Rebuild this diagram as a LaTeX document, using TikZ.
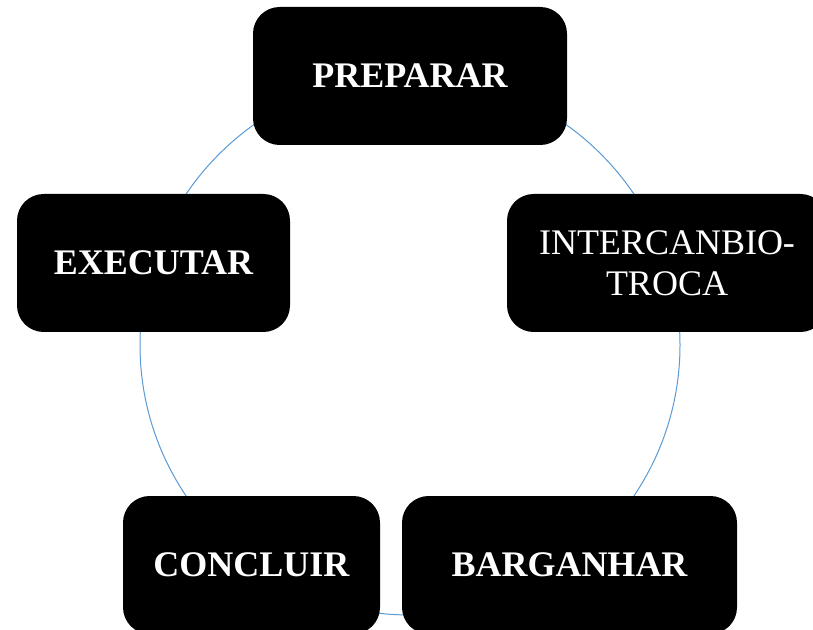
\documentclass[tikz,border=0pt]{standalone}
\usepackage{fontspec}
\setmainfont{Liberation Serif}
\usepackage{xcolor}
\usepackage{tikz}
\usetikzlibrary{positioning}

\definecolor{ringblue}{HTML}{5B9BD5}

\begin{document}
\begin{tikzpicture}[
    x=0.75pt, y=-0.75pt,
    stage/.style={rectangle, rounded corners=20pt, fill=black, text=white, minimum height=103.5pt, align=center, inner sep=0pt, font=\fontsize{27}{30.75}\selectfont\bfseries},
    ring/.style={circle, draw=ringblue, line width=0.75pt, minimum size=405pt, inner sep=0pt}
]
\clip (0,0) rectangle (813,630);
\fill[white] (0,0) rectangle (813,630);

% Cycle
\node[ring] (cycle) at (410,345) {};

% Stages
\node[stage, minimum width=235.5pt] (preparar) at (410,76) {PREPARAR};
\node[stage, minimum width=240pt, font=\fontsize{27}{30.75}\selectfont] (troca) at (667,263) {INTERCANBIO-\\TROCA};
\node[stage, minimum width=251.25pt] (barganhar) at (569.5,565) {BARGANHAR};
\node[stage, minimum width=192.75pt] (concluir) at (251.5,565) {CONCLUIR};
\node[stage, minimum width=204.75pt] (executar) at (153.5,263) {EXECUTAR};

\end{tikzpicture}
\end{document}
